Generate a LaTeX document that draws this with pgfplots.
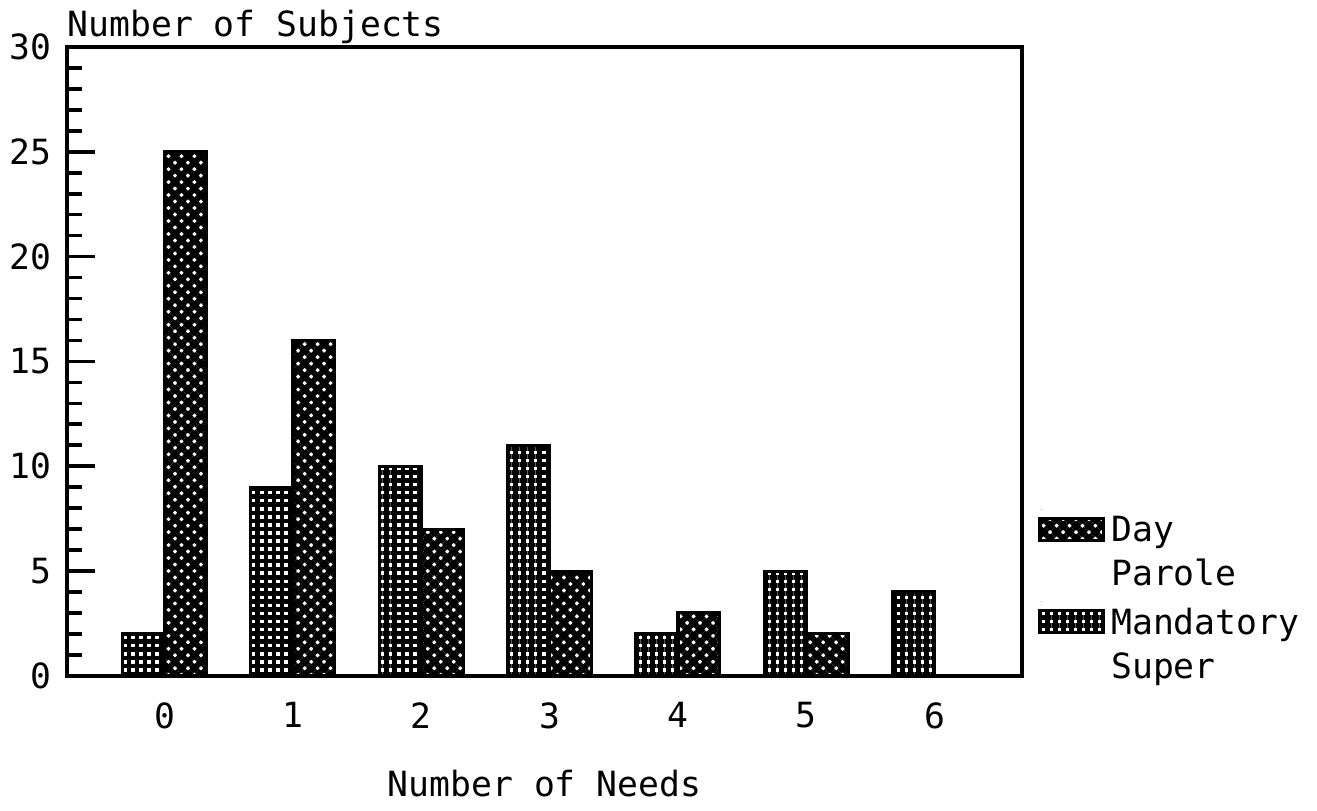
\documentclass[border=0pt]{standalone}
\usepackage{pgfplots}
\pgfplotsset{compat=1.18}
\usepackage{fontspec}
\setmainfont{DejaVu Sans Mono}
\usetikzlibrary{patterns.meta,calc}

% 1 px of the reference = 0.36pt
\tikzset{
  dayparole/.style={draw=black, line width=1.1pt,
    pattern={Hatch[angle=45,distance=3.3pt,line width=2.1pt]}, pattern color=black},
  mandatory/.style={draw=black, line width=1.1pt,
    pattern={Hatch[angle=0,distance=2.9pt,line width=1.65pt]}, pattern color=black},
}

\begin{document}
\begin{tikzpicture}
\begin{axis}[
    scale only axis,
    width=343.8pt, height=226.4pt,
    ybar=0pt, bar width=15.1pt,
    xmin=-0.76, xmax=6.68,
    ymin=0, ymax=30,
    xtick={0,1,2,3,4,5,6},
    ytick={0,5,10,15,20,25,30},
    minor y tick num=4,
    ytick pos=left,
    tick align=inside,
    major tick length=10pt,
    minor tick length=5.4pt,
    xtick style={draw=none},
    ytick style={line width=1.3pt, black},
    minor y tick style={line width=1.3pt, black},
    axis line style={line width=1.5pt},
    /pgf/number format/assume math mode=true,
    tick label style={font=\fontsize{12.5}{15}\selectfont, inner sep=0pt},
    yticklabel style={xshift=-5.4pt},
    xticklabel style={yshift=-9.4pt, anchor=north},
    ylabel={Number of Subjects},
    ylabel style={rotate=-90, at={(rel axis cs:0,1)}, anchor=base west,
      yshift=3.6pt, inner sep=0pt, font=\fontsize{12.5}{15}\selectfont},
    xlabel={Number of Needs},
    xlabel style={at={(rel axis cs:0.5,0)}, anchor=north, yshift=-33.8pt,
      inner sep=0pt, font=\fontsize{12.5}{15}\selectfont},
    legend style={at={(1.0167,0.265)}, anchor=north west, draw=none, fill=none,
      inner sep=0pt, column sep=0.4pt, row sep=2.3pt,
      font=\fontsize{12.5}{16}\selectfont,
      cells={align=left, anchor=north west}},
    legend image code/.code={%
      \path[draw=none] (0pt,0pt) -- (1pt,0pt);
      \draw[#1] (0pt,-3.2pt) rectangle (22.7pt,-11.1pt);},
    reverse legend,
]
\addplot[mandatory] coordinates {(0,2) (1,9) (2,10) (3,11) (4,2) (5,5) (6,4)};
\addlegendentry{Mandatory\\Super}
\addplot[dayparole] coordinates {(0,25) (1,16) (2,7) (3,5) (4,3) (5,2) (6,0)};
\addlegendentry{Day\\Parole}
\coordinate (bl) at (rel axis cs:0,0);
\coordinate (tr) at (rel axis cs:1,1);
\end{axis}
\pgfresetboundingbox
\path[use as bounding box] ($(bl)+(-24.1pt,-48.6pt)$) rectangle ($(tr)+(106.2pt,16.9pt)$);
\end{tikzpicture}
\end{document}
